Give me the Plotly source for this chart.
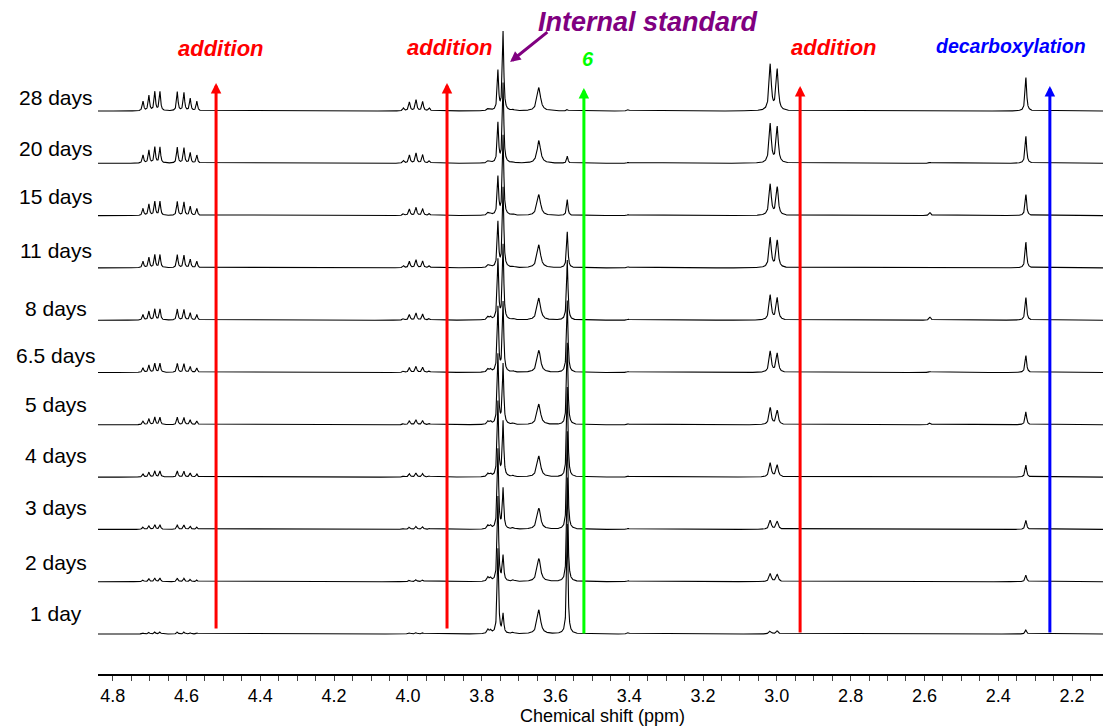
import numpy as np
import plotly.graph_objects as go

# Stacked 1H NMR spectra recorded over time (bottom: 1 day, top: 28 days)
days = ["1 day", "2 days", "3 days", "4 days", "5 days", "6.5 days",
        "8 days", "11 days", "15 days", "20 days", "28 days"]

# Multiplet 4.57-4.72 ppm: line positions, relative pattern, tallest line height per spectrum
mult_a_ppm = [4.718, 4.702, 4.686, 4.672, 4.625, 4.607, 4.590, 4.572]
mult_a_rel = [0.5, 0.8, 1.0, 1.0, 1.0, 0.95, 0.65, 0.5]
mult_a_amp = [2, 3.5, 4.5, 6, 7.5, 9, 11, 13, 14, 16, 19]

# Multiplet 3.94-4.01 ppm
mult_b_ppm = [4.012, 3.996, 3.978, 3.960, 3.942]
mult_b_rel = [0.25, 0.8, 1.0, 0.85, 0.25]
mult_b_amp = [1.5, 2, 3, 4, 5, 6, 7, 8, 8, 10, 11]

# Internal standard region (two sharp lines)
istd_ppm = [3.756, 3.742]
istd_left = [85, 85, 80, 75, 70, 65, 60, 45, 38, 39.5, 39.5]
istd_right = [19, 25, 40, 55, 60, 70, 75, 80, 80, 80, 79]

# Broad singlet at 3.645 ppm
s3645_ppm = 3.645
s3645 = [24, 23, 21, 21, 20.6, 22, 22, 23, 21, 22.6, 23.4]

# Compound 6 at 3.568 ppm
s6_ppm = 3.568
s6 = [110, 104, 98, 90, 82, 72, 60, 36, 16, 7, 1.5]

# Doublet near 3.01 ppm
doublet_ppm = [3.018, 2.999]
doublet_left = [3, 8, 9, 14, 17, 21, 25, 30, 31, 39, 46]
doublet_right = [3, 7, 8, 12, 14, 19, 22, 27, 28, 36, 41]

# Singlet at 2.325 ppm
s2325_ppm = 2.325
s2325 = [4, 6.6, 9, 12, 13, 17, 22.6, 26, 21, 27, 33.5]

# Small signals
minor_ppm = [3.783, 3.776, 3.715, 3.403, 2.585]
minor_3783 = [4, 4, 3.5, 3, 3, 3, 3, 2.5, 2.5, 2, 2]
minor_3776 = [3, 3, 3, 2.5, 2.5, 2.5, 2.5, 2, 2, 1.5, 1.5]
minor_3715 = [1.5, 1.5, 1.5, 1.2, 1.2, 1, 1, 1, 1, 1, 1]
minor_3403 = [1.5, 1, 1, 1, 1, 1, 1, 1.2, 1, 1, 1.5]
minor_2585 = [0.5, 0.5, 0.5, 0.5, 2, 1, 3, 0.5, 3, 1, 0.3]

# Layout constants (y units are screen pixels above the axis line)
BASE0 = 40.0
STEP = 52.3
LABEL_LIFT = [21, 19, 22, 22, 20, 17, 12, 17, 19, 15, 14]
X_RANGE = [4.84, 2.116]

x = np.linspace(X_RANGE[1], X_RANGE[0], 9000)


def lor(x0, h, g):
    return h / (1.0 + ((x - x0) / g) ** 2)


fig = go.Figure()

for i, name in enumerate(days):
    y = np.zeros_like(x)
    for p, r in zip(mult_a_ppm, mult_a_rel):
        y += lor(p, r * mult_a_amp[i], 0.0022)
    for p, r in zip(mult_b_ppm, mult_b_rel):
        y += lor(p, r * mult_b_amp[i], 0.0025)
    y += lor(istd_ppm[0], istd_left[i], 0.0022)
    y += lor(istd_ppm[1], istd_right[i], 0.0022)
    y += lor(s3645_ppm, s3645[i], 0.0055)
    y += lor(s6_ppm, s6[i], 0.0022)
    y += lor(doublet_ppm[0], doublet_left[i], 0.0035)
    y += lor(doublet_ppm[1], doublet_right[i], 0.0035)
    y += lor(s2325_ppm, s2325[i], 0.0025)
    for p, arr in zip(minor_ppm, [minor_3783, minor_3776, minor_3715, minor_3403, minor_2585]):
        y += lor(p, arr[i], 0.003)
    base = BASE0 + STEP * i
    fig.add_trace(go.Scatter(
        x=x, y=base + y, mode="lines", name=name,
        line=dict(color="black", width=1.1), hoverinfo="skip", showlegend=False,
    ))

annotations = []
FONT = "Liberation Sans, Arial, sans-serif"

# spectrum labels on the left
for i, name in enumerate(days):
    annotations.append(dict(
        text=name, xref="paper", yref="y", x=-0.0418, y=BASE0 + STEP * i + LABEL_LIFT[i],
        xanchor="center", yanchor="middle", showarrow=False,
        font=dict(family=FONT, size=21, color="black"),
    ))

# vertical arrows: (ppm, tail y, head y, colour)
arrows = [
    (4.520, 44, 591, "#ff0000"),
    (3.894, 44, 591, "#ff0000"),
    (3.523, 39, 586, "#00ff00"),
    (2.937, 40, 588, "#ff0000"),
    (2.260, 40, 588, "#0000ff"),
]
for px, y0, y1, c in arrows:
    annotations.append(dict(
        text="", x=px, y=y1, ax=px, ay=y0, xref="x", yref="y", axref="x", ayref="y",
        showarrow=True, arrowhead=2, arrowsize=0.7, arrowwidth=3, arrowcolor=c, standoff=0,
    ))

# pointer to the internal standard
annotations.append(dict(
    text="", x=3.723, y=612, ax=3.618, ay=643, xref="x", yref="y", axref="x", ayref="y",
    showarrow=True, arrowhead=2, arrowsize=0.7, arrowwidth=3, arrowcolor="#800080", standoff=0,
))

# labels above the arrows
labels = [
    ("addition", 4.507, 626, "#ff0000", 22),
    ("addition", 3.886, 627, "#ff0000", 22),
    ("6", 3.512, 615, "#00ff00", 20),
    ("addition", 2.845, 627, "#ff0000", 22),
    ("decarboxylation", 2.365, 628, "#0000ff", 19.5),
    ("Internal standard", 3.349, 652, "#800080", 27),
]
for t, px, py, c, s in labels:
    annotations.append(dict(
        text="<b><i>%s</i></b>" % t, x=px, y=py, xref="x", yref="y",
        xanchor="center", yanchor="middle", showarrow=False,
        font=dict(family=FONT, size=s, color=c),
    ))

# x-axis title, placed just under the tick labels
annotations.append(dict(
    text="Chemical shift (ppm)", xref="paper", yref="paper", x=0.502, y=-0.0623,
    xanchor="center", yanchor="middle", showarrow=False,
    font=dict(family=FONT, size=18, color="black"), borderpad=0,
))

fig.update_layout(
    width=1117, height=727,
    margin=dict(l=98, r=14, t=0, b=53, autoexpand=False),
    paper_bgcolor="white", plot_bgcolor="white",
    annotations=annotations,
    xaxis=dict(
        range=X_RANGE, showgrid=False, zeroline=False,
        showline=True, linecolor="black", linewidth=1.5,
        ticks="outside", ticklen=5, tickwidth=1, tickcolor="#444",
        dtick=0.2, tick0=0, tickformat=".1f",
        tickfont=dict(family=FONT, size=18, color="black"),
        minor=dict(dtick=0.05, ticks="outside", ticklen=5, tickwidth=1, tickcolor="#444"),
        automargin=False,
    ),
    yaxis=dict(range=[0, 674], visible=False, fixedrange=True),
)

fig.write_html("out.html")
